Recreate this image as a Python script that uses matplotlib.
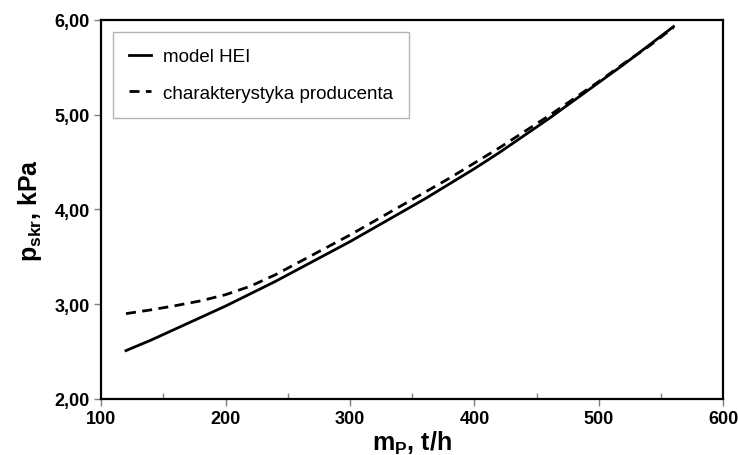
import numpy as np
import matplotlib
matplotlib.use('Agg')
import matplotlib.pyplot as plt
from matplotlib.ticker import MultipleLocator, FuncFormatter

plt.rcParams['font.family'] = ['Liberation Sans', 'DejaVu Sans']
plt.rcParams['mathtext.fontset'] = 'custom'
plt.rcParams['mathtext.rm'] = 'Liberation Sans:bold'
plt.rcParams['mathtext.bf'] = 'Liberation Sans:bold'
plt.rcParams['mathtext.it'] = 'Liberation Sans:bold'

# mass flow, t/h
m_p = [120, 140, 160, 180, 200, 220, 240, 260, 280, 300, 320, 340,
       360, 380, 400, 420, 440, 460, 480, 500, 520, 540, 560]
# model HEI, kPa
p_model = [2.51, 2.62, 2.74, 2.86, 2.98, 3.11, 3.24, 3.38, 3.52, 3.66, 3.81, 3.96,
           4.11, 4.27, 4.43, 4.60, 4.78, 4.96, 5.15, 5.34, 5.53, 5.73, 5.93]
# manufacturer characteristic, kPa
p_prod = [2.90, 2.94, 2.985, 3.035, 3.10, 3.19, 3.31, 3.45, 3.59, 3.73, 3.88, 4.03,
          4.18, 4.33, 4.49, 4.65, 4.82, 4.99, 5.17, 5.35, 5.54, 5.72, 5.92]

fig = plt.figure(figsize=(7.38, 4.56), dpi=100)
ax = fig.add_axes([0.137, 0.123, 0.843, 0.831])

ax.plot(m_p, p_model, color='black', lw=2.0, label='model HEI')
ax.plot(m_p, p_prod, color='black', lw=2.0, dashes=(3.6, 2.3),
        label='charakterystyka producenta')

ax.set_xlim(100, 600)
ax.set_ylim(2.0, 6.0)
ax.xaxis.set_major_locator(MultipleLocator(100))
ax.xaxis.set_minor_locator(MultipleLocator(50))
ax.yaxis.set_major_locator(MultipleLocator(1.0))
ax.yaxis.set_major_formatter(FuncFormatter(lambda v, p: f'{v:.2f}'.replace('.', ',')))

for s in ax.spines.values():
    s.set_linewidth(1.6)
ax.tick_params(axis='both', which='major', direction='out', length=5, width=1,
               color='#808080', labelsize=13, pad=3)
ax.tick_params(axis='x', which='minor', direction='in', length=4, width=1, color='#808080')
for lab in ax.get_xticklabels() + ax.get_yticklabels():
    lab.set_fontweight('bold')

ax.set_xlabel(r'$\mathregular{m_{P}}$, t/h', fontsize=18, fontweight='bold', labelpad=1)
ax.set_ylabel(r'$\mathregular{p_{skr}}$, kPa', fontsize=18, fontweight='bold', labelpad=8)

leg = ax.legend(loc='upper left', bbox_to_anchor=(0.019, 0.968), fontsize=13.5,
                frameon=True, fancybox=False, edgecolor='#a0a0a0',
                handlelength=1.2, handletextpad=0.6, labelspacing=1.05,
                borderpad=0.85, borderaxespad=0)
leg.get_frame().set_linewidth(1.0)

fig.savefig('out.png', dpi=100)
